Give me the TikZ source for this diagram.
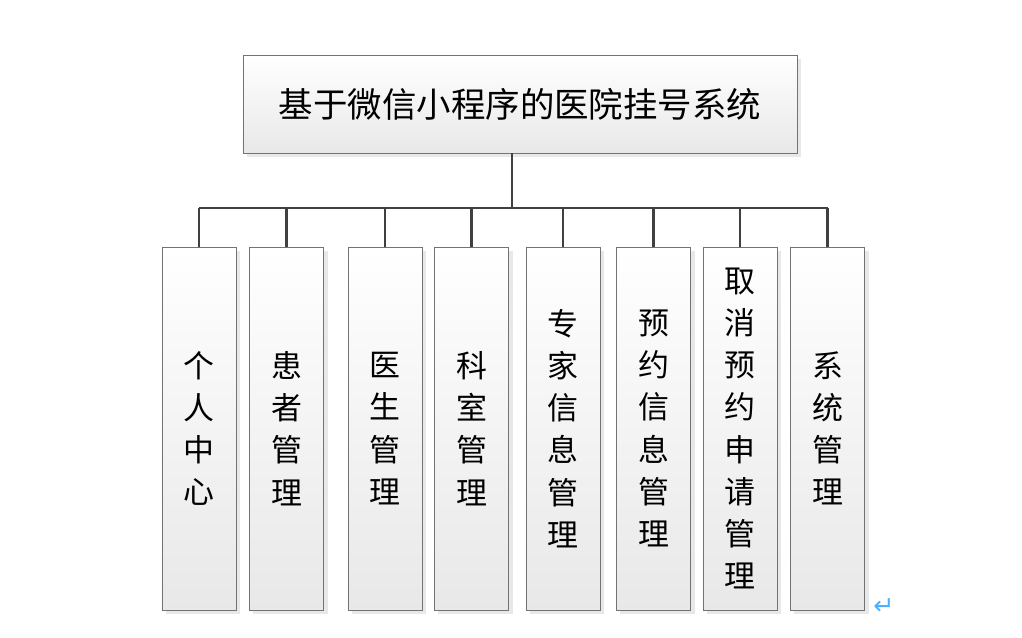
\documentclass[tikz,border=0pt]{standalone}
\usepackage{fontspec}
\newfontfamily\cjk{Noto Sans CJK SC}
\newfontfamily\symfont{DejaVu Sans}
\usetikzlibrary{shadows, positioning}

\begin{document}
\begin{tikzpicture}[
    x=0.025cm, y=-0.025cm,
    box/.style={rectangle, draw=black!55, line width=0.6pt, top color=white, bottom color=black!9,
      drop shadow={shadow xshift=0.1cm, shadow yshift=-0.1cm, fill=black!18}, align=center, inner sep=0pt},
    titlebox/.style={box, minimum width=13.85cm, minimum height=2.45cm, font=\cjk\fontsize{24.5}{28}\selectfont},
    item/.style={box, minimum width=1.85cm, minimum height=9.075cm, font=\cjk\fontsize{22}{30}\selectfont},
    link/.style={draw=black!75, line width=2pt}
  ]
    \useasboundingbox (0,0) rectangle (1022,638);

    \node[titlebox] (title) at (520,104) {基于微信小程序的医院挂号系统};

    \node[item] (center)  at (199,428.5) {个\\人\\中\\心};
    \node[item] (patient) at (286.5,428.5) {患\\者\\管\\理};
    \node[item] (doctor)  at (385,428.5) {医\\生\\管\\理};
    \node[item] (dept)    at (471.5,428.5) {科\\室\\管\\理};
    \node[item] (expert)  at (563,428.5) {专\\家\\信\\息\\管\\理};
    \node[item] (booking) at (653.5,428.5) {预\\约\\信\\息\\管\\理};
    \node[item] (cancel)  at (740,428.5) {取\\消\\预\\约\\申\\请\\管\\理};
    \node[item] (system)  at (827.5,428.5) {系\\统\\管\\理};

    % trunk and bus
    \coordinate (bus) at (512,208);
    \draw[link] (bus |- title.south) -- (bus);
    \draw[link] (bus -| center) -- (bus -| system);
    \foreach \n in {center, patient, doctor, dept, expert, booking, cancel, system}
      \draw[link] (bus -| \n) -- (\n.north);

    \node[text=blue!45!cyan!70, font=\symfont\fontsize{18}{18}\selectfont] (mark) at (884,607) {↵};
  \end{tikzpicture}
\end{document}
